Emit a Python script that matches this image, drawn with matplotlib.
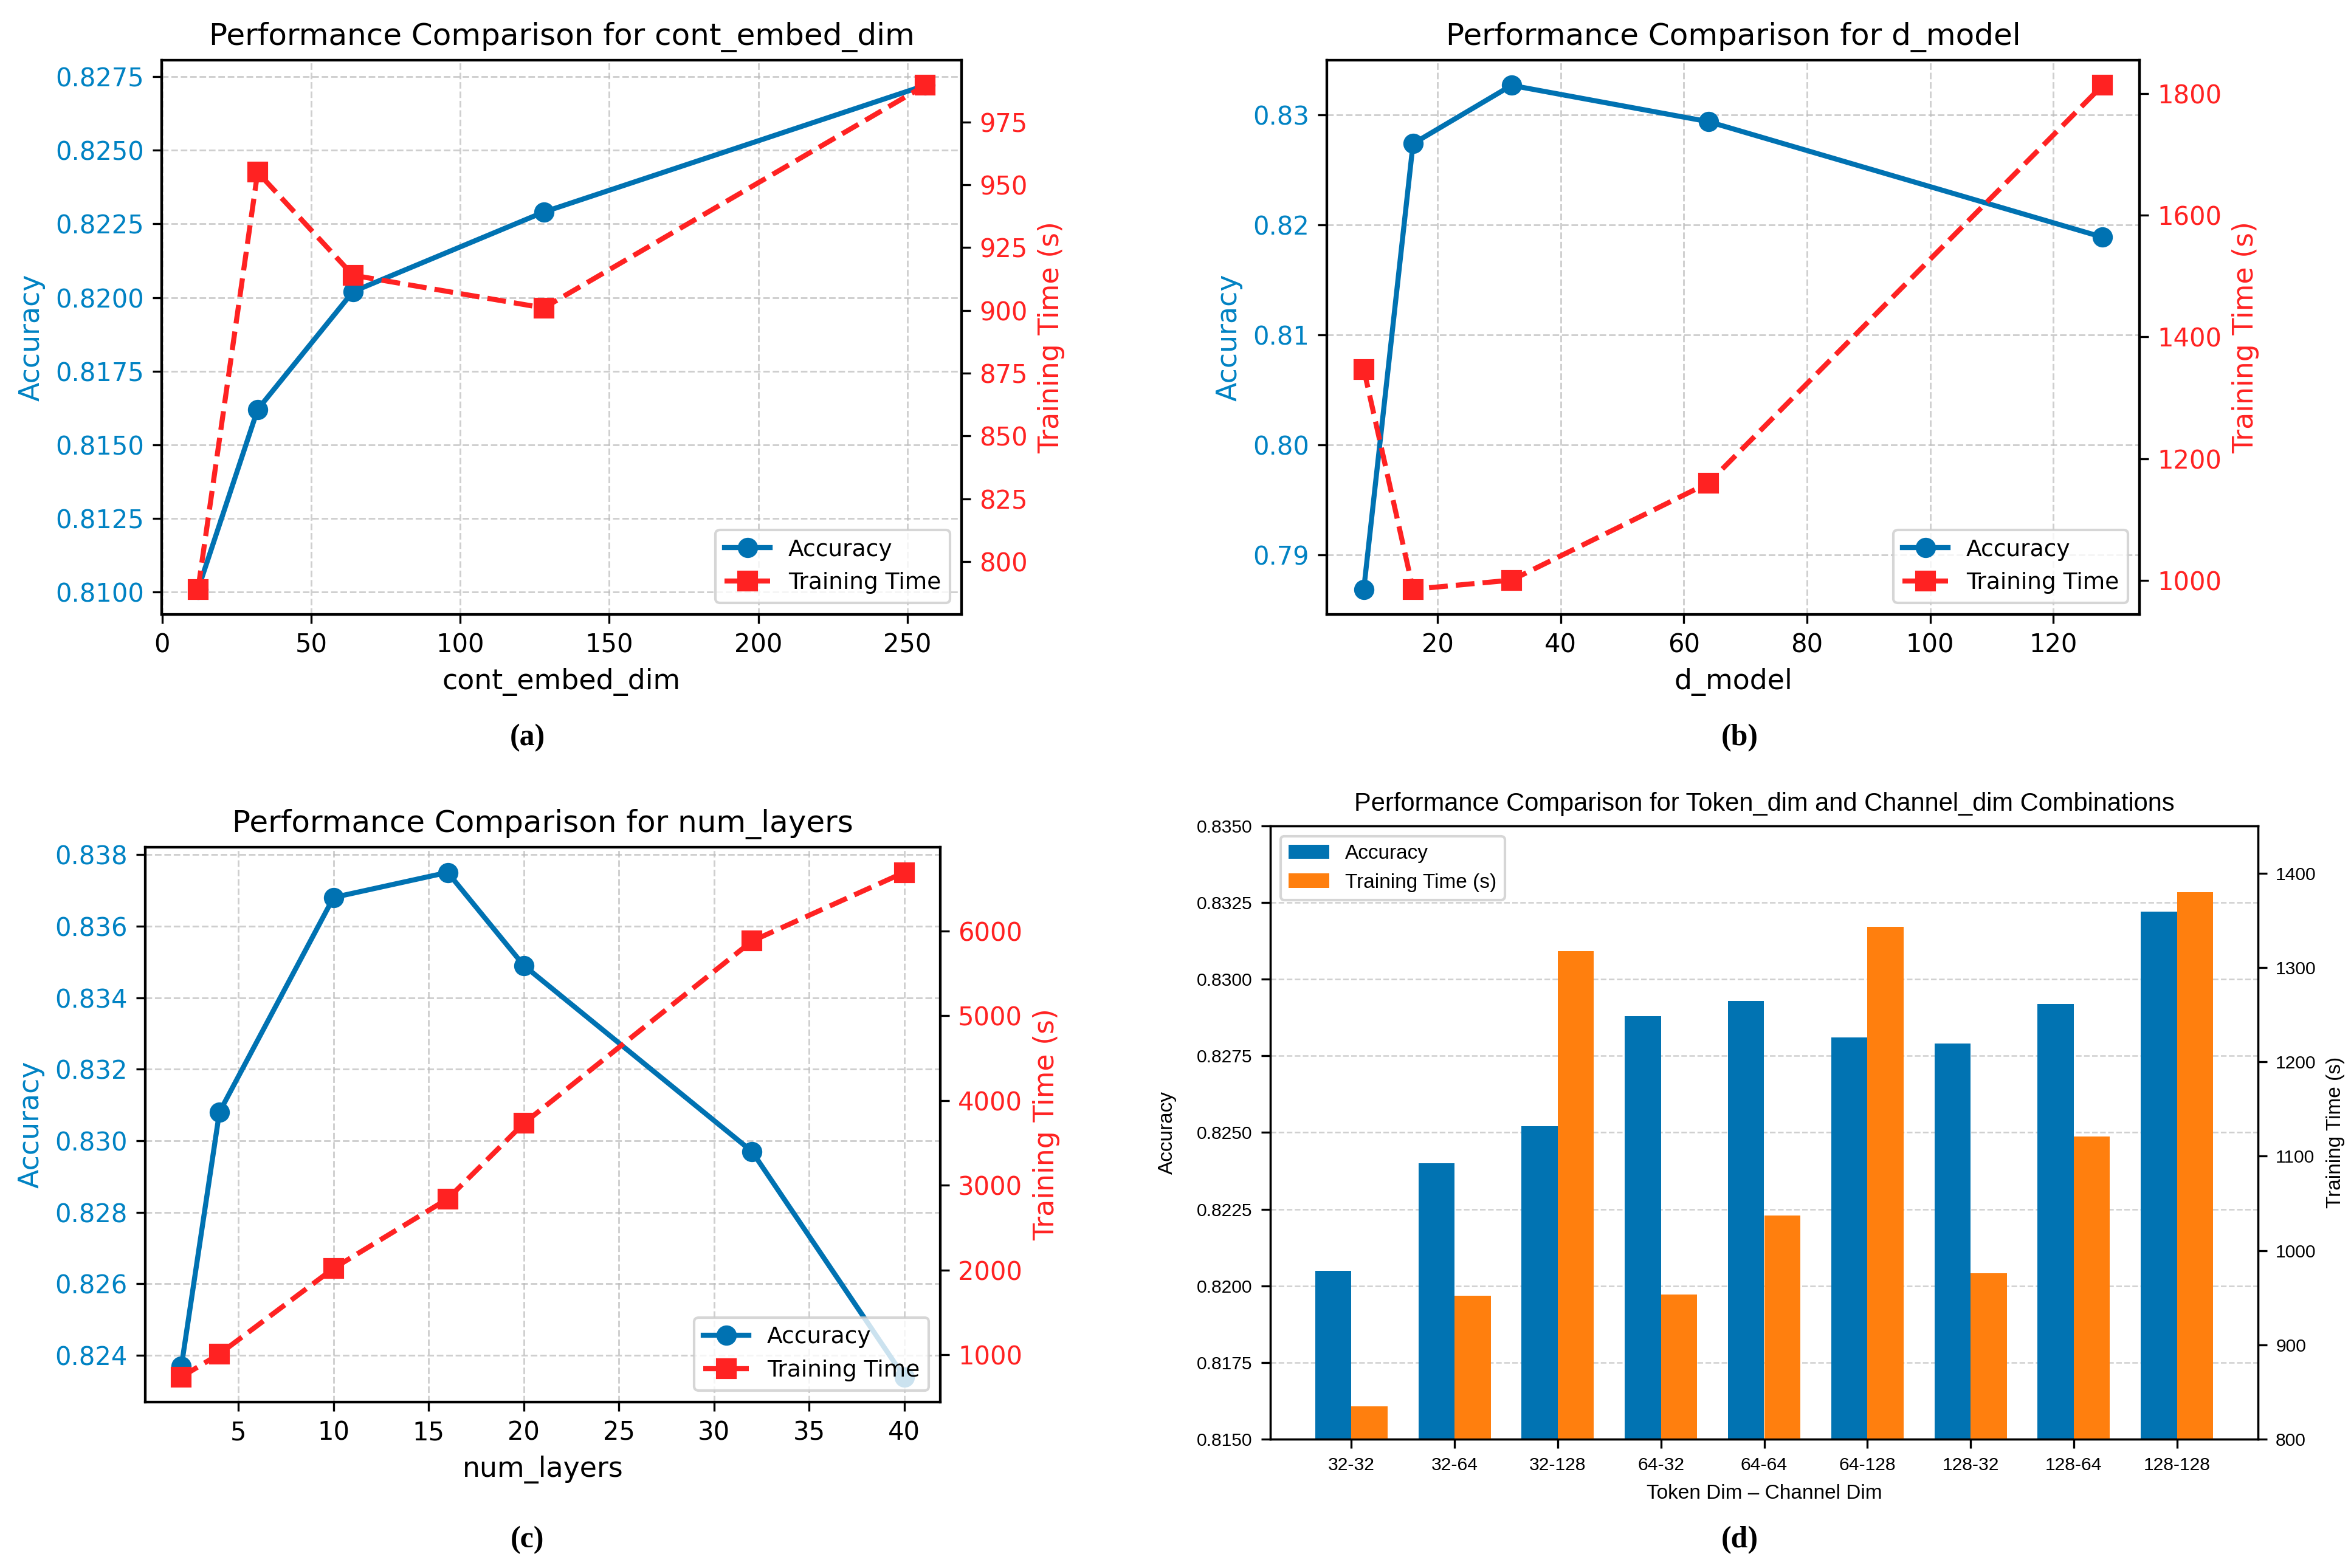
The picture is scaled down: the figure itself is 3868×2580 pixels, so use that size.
import matplotlib
matplotlib.use('Agg')
import matplotlib.pyplot as plt
import numpy as np
from matplotlib.ticker import MultipleLocator, FormatStrFormatter

# ---------------- data ----------------
cont_embed_dim = [12, 32, 64, 128, 256]
cont_acc = [0.8101, 0.8162, 0.8202, 0.8229, 0.8272]
cont_time = [789, 955, 914, 901, 989.6]

d_model = [8, 16, 32, 64, 128]
dm_acc = [0.7869, 0.8274, 0.8327, 0.8294, 0.8189]
dm_time = [1347, 985, 1000, 1160, 1814]

num_layers = [2, 4, 10, 16, 20, 32, 40]
nl_acc = [0.8237, 0.8308, 0.8368, 0.8375, 0.8349, 0.8297, 0.8234]
nl_time = [740, 1010, 2020, 2840, 3730, 5880, 6690]

combos = ['32-32', '32-64', '32-128', '64-32', '64-64', '64-128', '128-32', '128-64', '128-128']
combo_acc = [0.8205, 0.8240, 0.8252, 0.8288, 0.8293, 0.8281, 0.8279, 0.8292, 0.8322]
combo_time = [835, 952, 1317, 953, 1037, 1343, 976, 1121, 1380]

captions = ['(a)', '(b)', '(c)', '(d)']

# ---------------- style ----------------
BLUE = '#0072B2'
BLUE_T = '#0082C3'
RED = '#FF2222'
BAR_BLUE = '#0173B2'
BAR_ORANGE = '#FF7F0E'

plt.rcParams['font.family'] = ['DejaVu Sans']
W, H, DPI = 3868, 2580, 300
fig = plt.figure(figsize=(W / DPI, H / DPI), dpi=DPI)


def rect(l, t, r, b):
    return [l / W, 1 - b / H, (r - l) / W, (b - t) / H]


def line_panel(rc, x, acc, tt, xlabel, title, acc_step=None, acc_fmt=None, time_step=None):
    ax1 = fig.add_axes(rc)
    ax1.plot(x, acc, color=BLUE, marker='o', lw=2, ms=7, label='Accuracy')
    ax1.set_xlabel(xlabel, fontsize=11)
    ax1.set_ylabel('Accuracy', color=BLUE_T, fontsize=11)
    ax1.tick_params(axis='y', labelcolor=BLUE_T, labelsize=10)
    ax1.tick_params(axis='x', labelsize=10)
    if acc_step:
        ax1.yaxis.set_major_locator(MultipleLocator(acc_step))
    if acc_fmt:
        ax1.yaxis.set_major_formatter(FormatStrFormatter(acc_fmt))
    ax1.grid(True, linestyle='--', color='#bbbbbb', alpha=0.7, lw=0.7)
    ax2 = ax1.twinx()
    ax2.plot(x, tt, color=RED, marker='s', ls='--', lw=2, ms=7, label='Training Time')
    ax2.set_ylabel('Training Time (s)', color=RED, fontsize=11)
    ax2.tick_params(axis='y', labelcolor=RED, labelsize=10)
    if time_step:
        ax2.yaxis.set_major_locator(MultipleLocator(time_step))
    for a in (ax1, ax2):
        for s in a.spines.values():
            s.set_linewidth(1.0)
    h1, l1 = ax1.get_legend_handles_labels()
    h2, l2 = ax2.get_legend_handles_labels()
    ax2.legend(h1 + h2, l1 + l2, loc='lower right', fontsize=9)
    ax1.set_title(title, fontsize=12)
    return ax1, ax2


line_panel(rect(266, 99, 1582, 1011), cont_embed_dim, cont_acc, cont_time,
           'cont_embed_dim', 'Performance Comparison for cont_embed_dim',
           acc_step=0.0025, acc_fmt='%.4f', time_step=25)
line_panel(rect(2183, 99, 3520, 1011), d_model, dm_acc, dm_time,
           'd_model', 'Performance Comparison for d_model',
           acc_step=0.01, acc_fmt='%.2f', time_step=200)
line_panel(rect(239, 1394, 1547, 2307), num_layers, nl_acc, nl_time,
           'num_layers', 'Performance Comparison for num_layers',
           acc_step=0.002, acc_fmt='%.3f', time_step=1000)

# ---------------- panel (d) ----------------
FD = 'Liberation Sans'
axd = fig.add_axes(rect(2090, 1359, 3715, 2368))
xi = np.arange(len(combos))
w = 0.35
axd.bar(xi - w / 2, combo_acc, w, color=BAR_BLUE, label='Accuracy')
axd.set_ylim(0.815, 0.835)
axd.yaxis.set_major_locator(MultipleLocator(0.0025))
axd.yaxis.set_major_formatter(FormatStrFormatter('%.4f'))
axd.set_xticks(xi)
axd.set_xticklabels(combos, fontfamily=FD, fontsize=7.2)
axd.tick_params(axis='y', labelsize=7.2)
for lab in axd.get_yticklabels():
    lab.set_fontfamily(FD)
axd.set_ylabel('Accuracy', fontfamily=FD, fontsize=8, labelpad=8)
axd.set_xlabel('Token Dim \u2013 Channel Dim', fontfamily=FD, fontsize=8)
axd.grid(axis='y', linestyle='--', color='#bbbbbb', alpha=0.7, lw=0.6)
axd.set_axisbelow(True)
axd2 = axd.twinx()
axd2.bar(xi + w / 2, combo_time, w, color=BAR_ORANGE, label='Training Time (s)')
axd2.set_ylim(800, 1450)
axd2.yaxis.set_major_locator(MultipleLocator(100))
axd2.tick_params(axis='y', labelsize=7.2)
for lab in axd2.get_yticklabels():
    lab.set_fontfamily(FD)
axd2.set_ylabel('Training Time (s)', fontfamily=FD, fontsize=8)
for a in (axd, axd2):
    for s in a.spines.values():
        s.set_linewidth(0.8)
hd1, ld1 = axd.get_legend_handles_labels()
hd2, ld2 = axd2.get_legend_handles_labels()
axd2.legend(hd1 + hd2, ld1 + ld2, loc='upper left', prop={'family': FD, 'size': 8})
axd.set_title('Performance Comparison for Token_dim and Channel_dim Combinations',
              fontfamily=FD, fontsize=10)

# ---------------- captions ----------------
cap_pos = [(868, 1214), (2862, 1214), (868, 2534), (2862, 2534)]
for c, (px, py) in zip(captions, cap_pos):
    fig.text(px / W, 1 - py / H, c, ha='center', va='center',
             fontfamily='Liberation Serif', fontweight='bold', fontsize=12)

fig.savefig('out.png', dpi=DPI, facecolor='white')
